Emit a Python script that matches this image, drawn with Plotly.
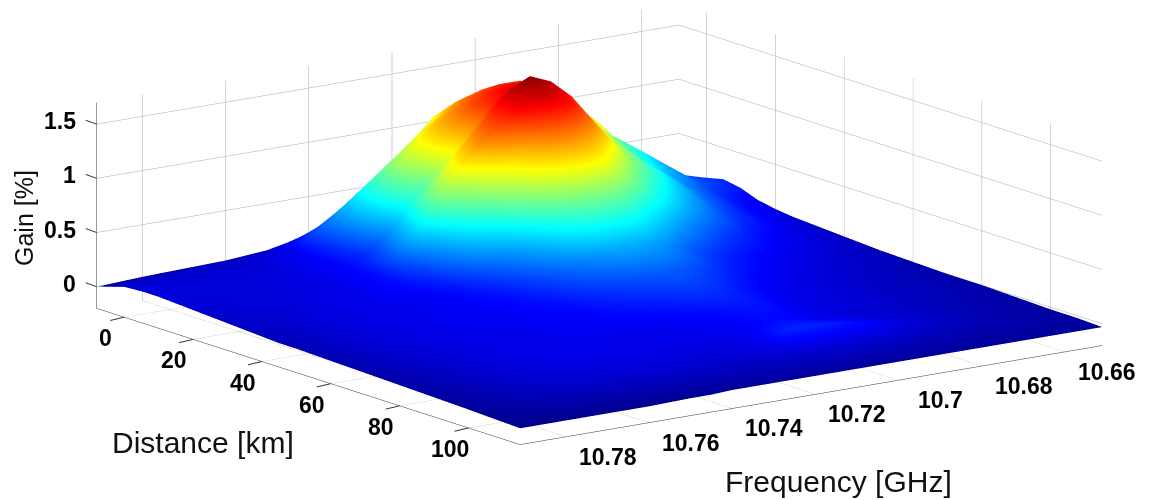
import plotly.graph_objects as go

frequency_ghz = [10.651,10.66,10.67,10.68,10.685,10.69,10.695,10.70,10.705,10.71,10.715,10.72,10.725,10.73,10.735,10.74,10.745,10.75,10.76,10.77,10.78,10.791]
distance_km = [-8,0,5,10,15,20,25,30,35,40,45,50,60,70,80,90,100,107,115]
gain_pct = [
 [.12,.24,.42,.62,.72,.85,.98,1.10,1.14,1.04,.86,.68,.50,.36,.26,.16,.11,.07,.04,.03,.02,.00],
 [.16,.28,.58,.88,1.05,1.20,1.32,1.36,1.34,1.28,1.16,1.04,.88,.73,.58,.42,.28,.12,.07,.07,.07,.08],
 [.21,.30,.58,.85,1.05,1.22,1.36,1.44,1.44,1.38,1.28,1.16,1.02,.86,.66,.46,.27,.14,.08,.08,.08,.09],
 [.18,.28,.50,.78,1.0,1.18,1.34,1.45,1.50,1.47,1.38,1.22,1.05,.86,.68,.45,.25,.15,.09,.08,.08,.09],
 [.12,.22,.42,.70,.88,1.05,1.22,1.42,1.55,1.55,1.42,1.20,1.00,.78,.62,.38,.22,.15,.10,.08,.08,.08],
 [.09,.18,.36,.65,.80,.95,1.20,1.45,1.62,1.70,1.60,1.40,1.20,1.00,.78,.50,.30,.16,.10,.08,.08,.07],
 [.07,.15,.30,.55,.70,.85,1.08,1.32,1.50,1.58,1.55,1.42,1.30,1.10,.88,.60,.35,.17,.11,.09,.08,.06],
 [.06,.13,.25,.45,.58,.70,.88,1.08,1.25,1.32,1.28,1.15,1.02,.85,.66,.45,.28,.17,.11,.09,.07,.05],
 [.05,.11,.20,.36,.46,.58,.72,.88,1.04,1.10,1.08,.98,.78,.60,.48,.35,.22,.16,.12,.10,.07,.04],
 [.04,.09,.15,.26,.34,.43,.54,.66,.78,.83,.81,.72,.56,.43,.34,.26,.18,.14,.12,.10,.07,.03],
 [.03,.08,.13,.20,.25,.32,.40,.50,.59,.61,.61,.56,.44,.35,.27,.20,.16,.13,.12,.10,.07,.02],
 [.02,.06,.10,.15,.19,.23,.29,.37,.44,.46,.46,.41,.35,.29,.22,.17,.15,.13,.12,.10,.07,.02],
 [.01,.04,.07,.11,.13,.16,.20,.25,.29,.31,.30,.27,.24,.21,.17,.15,.14,.13,.12,.10,.07,.01],
 [.00,.02,.05,.08,.10,.12,.14,.18,.22,.24,.23,.20,.18,.16,.14,.13,.13,.12,.11,.09,.06,.00],
 [.00,.02,.04,.07,.08,.09,.11,.15,.18,.18,.16,.15,.13,.12,.12,.12,.12,.12,.11,.09,.05,-.01],
 [-.01,.01,.03,.06,.07,.08,.10,.12,.15,.16,.14,.12,.11,.11,.11,.11,.11,.11,.10,.08,.04,-.02],
 [-.02,.00,.02,.06,.08,.11,.15,.18,.20,.21,.20,.12,.09,.08,.08,.08,.08,.08,.07,.05,.02,-.03],
 [-.02,-.01,.00,.01,.02,.03,.04,.05,.06,.06,.05,.04,.04,.03,.03,.03,.03,.03,.02,.01,-.01,-.04],
 [-.03,-.03,-.03,-.03,-.03,-.03,-.03,-.03,-.03,-.03,-.03,-.03,-.03,-.03,-.03,-.03,-.04,-.04,-.05,-.05,-.05,-.05],
]
freq_ticks = [10.66,10.68,10.70,10.72,10.74,10.76,10.78]
freq_labels = ["10.66","10.68","10.7","10.72","10.74","10.76","10.78"]
dist_ticks = [0,20,40,60,80,100]
dist_labels = ["0","20","40","60","80","100"]
gain_ticks = [0,0.5,1,1.5]
gain_labels = ["0","0.5","1","1.5"]
freq_range = [10.651,10.791]
dist_range = [-8,115]
gain_range = [-0.2,1.7]

jet = [[0,"#00007f"],[0.125,"#0000ff"],[0.375,"#00ffff"],[0.625,"#ffff00"],[0.875,"#ff0000"],[1,"#7f0000"]]
tickfont = dict(family="Liberation Sans", size=23, color="#000000", weight="bold")
grid = dict(showgrid=True, gridcolor="#aaaaaa", gridwidth=1, showbackground=False,
            zeroline=False, showspikes=False, title=dict(text=""), showticklabels=False,
            ticks="", showline=True, linecolor="#333333", linewidth=1)

def tick_mark(x, y, z, ax, ay):
    return dict(x=x, y=y, z=z, text=" ", showarrow=True, arrowhead=0, arrowwidth=1, arrowcolor="#333333",
                ax=ax, ay=ay, standoff=0, startstandoff=0)

def tick_label(x, y, z, text, xshift, yshift, **kw):
    return dict(x=x, y=y, z=z, text=text, showarrow=False, xshift=xshift, yshift=yshift, font=tickfont, **kw)

scene_notes = []
for v, t in zip(freq_ticks, freq_labels):
    scene_notes.append(tick_mark(v, dist_range[1], gain_range[0], 11, 4))
    scene_notes.append(tick_label(v, dist_range[1], gain_range[0], t, 42, -20))
for v, t in zip(dist_ticks, dist_labels):
    scene_notes.append(tick_mark(freq_range[1], v, gain_range[0], -17, 4))
    scene_notes.append(tick_label(freq_range[1], v, gain_range[0], t, -19, -21))
for v, t in zip(gain_ticks, gain_labels):
    scene_notes.append(tick_mark(freq_range[1], dist_range[0], v, -14, -5))
    scene_notes.append(tick_label(freq_range[1], dist_range[0], v, t, -19, 3, xanchor="right"))

fig = go.Figure(go.Surface(x=frequency_ghz, y=distance_km, z=gain_pct, colorscale=jet, cmin=-0.08, cmax=1.72,
                           showscale=False, lighting=dict(ambient=1, diffuse=0, specular=0, roughness=1, fresnel=0),
                           hoverinfo="skip"))
cx, cy, cz = 0.081, -0.059, -0.107
fig.update_layout(
    width=1149, height=500, margin=dict(l=0,r=0,t=0,b=0), paper_bgcolor="white",
    scene=dict(
        xaxis=dict(range=freq_range, tickvals=freq_ticks, ticktext=freq_labels, **grid),
        yaxis=dict(range=dist_range, tickvals=dist_ticks, ticktext=dist_labels, **grid),
        zaxis=dict(range=gain_range, tickvals=gain_ticks, ticktext=gain_labels, **grid),
        aspectmode="manual", aspectratio=dict(x=2.88,y=2.88,z=0.847),
        camera=dict(projection=dict(type="orthographic"), up=dict(x=0,y=0,z=1),
                    eye=dict(x=2.64+cx,y=3.63+cy,z=1.08+cz), center=dict(x=cx,y=cy,z=cz)),
        domain=dict(x=[0,1],y=[0,1]),
        annotations=scene_notes,
    ),
    annotations=[
        dict(text="Distance [km]", x=203/1149, y=1-442/500, xref="paper", yref="paper", xanchor="center", yanchor="middle", showarrow=False, font=dict(family="Liberation Sans", size=30, color="#111")),
        dict(text="Frequency [GHz]", x=838/1149, y=1-481/500, xref="paper", yref="paper", xanchor="center", yanchor="middle", showarrow=False, font=dict(family="Liberation Sans", size=30, color="#111")),
        dict(text="Gain [%]", x=24/1149, y=1-218/500, xref="paper", yref="paper", xanchor="center", yanchor="middle", showarrow=False, textangle=-90, font=dict(family="Liberation Sans", size=25, color="#111")),
    ],
)
fig.write_html("out.html", config=dict(displayModeBar=False), post_script="document.body.style.margin='0';")
